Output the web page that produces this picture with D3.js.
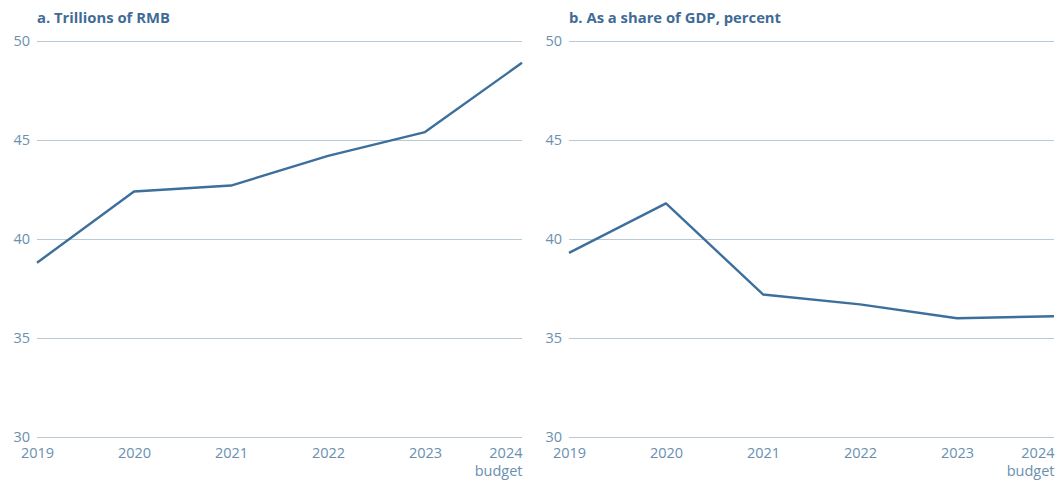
<!DOCTYPE html>
<html>
<head>
<meta charset="utf-8">
<script src="https://cdn.jsdelivr.net/npm/d3@7"></script>
<style>
  html, body { margin: 0; padding: 0; background: #fff; }
  svg { display: block; font-family: "Open Sans", sans-serif; }
</style>
</head>
<body>
<svg id="chart" width="1056" height="480"></svg>
<script>
// Fiscal years shown on the x axis
const years = ["2019", "2020", "2021", "2022", "2023", "2024"];
const yearNotes = ["", "", "", "", "", "budget"];

// Panel a: trillions of RMB
const valuesRMB = [38.8, 42.4, 42.7, 44.2, 45.4, 48.9];
// Panel b: as a share of GDP, percent
const valuesGDP = [39.3, 41.8, 37.2, 36.7, 36.0, 36.1];

const yTicks = [30, 35, 40, 45, 50];

const panels = [
  { title: "a. Trillions of RMB", values: valuesRMB, x0: 37, x1: 522 },
  { title: "b. As a share of GDP, percent", values: valuesGDP, x0: 569, x1: 1054 }
];

const lineColor = "#3d6f9c";
const textColor = "#6a8fb0";
const titleColor = "#3f6c97";
const gridColor = "#b9cad6";

const svg = d3.select("#chart");
const plotTop = 41, plotBottom = 437;
const fontStack = "'Open Sans', sans-serif";
const labelSize = 14.5;

panels.forEach(p => {
  const x = d3.scalePoint().domain(years).range([p.x0, p.x1]);
  const y = d3.scaleLinear().domain([30, 50]).range([plotBottom, plotTop]);
  const g = svg.append("g");

  // Panel title
  g.append("text")
    .attr("x", p.x0)
    .attr("y", 22.5)
    .attr("fill", titleColor)
    .attr("font-weight", 700)
    .attr("font-size", 14.8)
    .attr("font-family", fontStack)
    .text(p.title);

  // Horizontal gridlines with value labels
  const yAxis = d3.axisLeft(y).tickValues(yTicks)
    .tickSize(-(p.x1 - p.x0)).tickPadding(7);
  const ya = g.append("g").attr("transform", `translate(${p.x0},0)`).call(yAxis);
  ya.select(".domain").remove();
  ya.selectAll(".tick line").attr("stroke", gridColor).attr("stroke-width", 1.2);
  ya.selectAll(".tick text")
    .attr("fill", textColor)
    .attr("font-size", labelSize)
    .attr("font-family", fontStack);

  // Year labels along the bottom
  const xAxis = d3.axisBottom(x).tickSize(0).tickPadding(11);
  const xa = g.append("g").attr("transform", `translate(0,${plotBottom})`).call(xAxis);
  xa.select(".domain").remove();
  xa.selectAll(".tick text")
    .attr("fill", textColor)
    .attr("font-size", labelSize)
    .attr("font-family", fontStack)
    .attr("text-anchor", (d, i) => i === years.length - 1 ? "end" : "middle");
  xa.selectAll(".tick").each(function(d, i) {
    if (yearNotes[i]) {
      d3.select(this).append("text")
        .attr("x", 0)
        .attr("y", 39)
        .attr("text-anchor", "end")
        .attr("fill", textColor)
        .attr("font-size", labelSize)
        .attr("font-family", fontStack)
        .text(yearNotes[i]);
    }
  });

  // Series line
  const line = d3.line()
    .x((d, i) => x(years[i]))
    .y(d => y(d));
  g.append("path")
    .datum(p.values)
    .attr("fill", "none")
    .attr("stroke", lineColor)
    .attr("stroke-width", 2.4)
    .attr("stroke-linejoin", "round")
    .attr("d", line);
});
</script>
</body>
</html>
